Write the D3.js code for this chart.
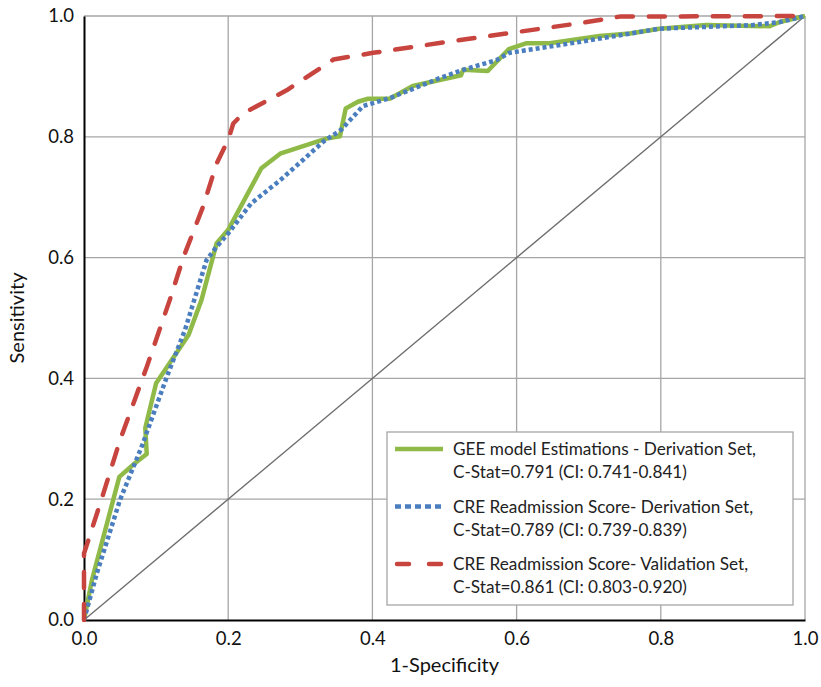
<!DOCTYPE html>
<html>
<head>
<meta charset="utf-8">
<script src="https://cdn.jsdelivr.net/npm/d3@7"></script>
<style>
  body { margin: 0; background: #fff; }
  svg { display: block; font-family: "Lato", "Open Sans", sans-serif; }
</style>
</head>
<body>
<svg id="chart" width="821" height="687"></svg>
<script>
// ROC curves: [1-specificity, sensitivity]
const geeDerivation = [
    [0, 0], [0.011, 0.066], [0.049, 0.237], [0.071, 0.26], [0.087, 0.275], [0.085, 0.318],
    [0.1, 0.392], [0.145, 0.472], [0.163, 0.53], [0.184, 0.624], [0.2, 0.646], [0.246, 0.748],
    [0.272, 0.772], [0.336, 0.797], [0.355, 0.801], [0.363, 0.847], [0.38, 0.858], [0.394, 0.863],
    [0.424, 0.863], [0.456, 0.884], [0.523, 0.902], [0.526, 0.911], [0.56, 0.909], [0.589, 0.945],
    [0.614, 0.955], [0.646, 0.955], [0.715, 0.967], [0.757, 0.971], [0.798, 0.979], [0.863, 0.985],
    [0.951, 0.983], [0.965, 0.99], [1, 1]
];
const creDerivation = [
    [0, 0], [0.018, 0.078], [0.05, 0.199], [0.08, 0.287], [0.115, 0.403], [0.14, 0.48],
    [0.17, 0.596], [0.184, 0.618], [0.2, 0.64], [0.232, 0.69], [0.272, 0.728], [0.304, 0.762],
    [0.332, 0.792], [0.357, 0.812], [0.387, 0.851], [0.396, 0.854], [0.424, 0.864], [0.493, 0.897],
    [0.526, 0.911], [0.572, 0.927], [0.59, 0.939], [0.687, 0.957], [0.798, 0.979], [0.928, 0.985],
    [0.965, 0.99], [1, 1]
];
const creValidation = [
    [0, 0], [0, 0.11], [0.006, 0.132], [0.027, 0.21], [0.05, 0.298], [0.087, 0.419],
    [0.119, 0.53], [0.138, 0.601], [0.165, 0.684], [0.184, 0.756], [0.2, 0.795], [0.207, 0.822],
    [0.221, 0.839], [0.281, 0.877], [0.346, 0.928], [0.401, 0.939], [0.503, 0.957], [0.604, 0.974],
    [0.687, 0.988], [0.743, 0.999], [1, 1]
];
const referenceLine = [[0, 0], [1, 1]];

const xTicks = [0, 0.2, 0.4, 0.6, 0.8, 1.0];
const yTicks = [0, 0.2, 0.4, 0.6, 0.8, 1.0];

const seriesNames = ["gee", "creDer", "creVal"];
const legendLabels = [
    ["GEE model Estimations - Derivation Set,", "C-Stat=0.791 (CI: 0.741-0.841)"],
    ["CRE Readmission Score- Derivation Set,", "C-Stat=0.789 (CI: 0.739-0.839)"],
    ["CRE Readmission Score- Validation Set,", "C-Stat=0.861 (CI: 0.803-0.920)"]
];

const style = {
    gee: { color: "#8fba48", width: 4.5, dash: null, cap: "butt" },
    creDer: { color: "#4a7ebf", width: 4.5, dash: "4,3", cap: "butt" },
    creVal: { color: "#c8443f", width: 4.5, dash: "16,16", cap: "round" }
};

const margin = { top: 16, right: 16, bottom: 67, left: 84 };
const svg = d3.select("svg#chart");
const width = +svg.attr("width") - margin.left - margin.right;
const height = +svg.attr("height") - margin.top - margin.bottom;

const x = d3.scaleLinear().domain([0, 1]).range([0, width]);
const y = d3.scaleLinear().domain([0, 1]).range([height, 0]);

const g = svg.append("g").attr("transform", `translate(${margin.left},${margin.top})`);

// grid
g.append("g").attr("class", "grid-x")
    .selectAll("line").data(xTicks.slice(1)).enter().append("line")
    .attr("x1", d => x(d)).attr("x2", d => x(d))
    .attr("y1", 0).attr("y2", height)
    .attr("stroke", "#a6a6a6").attr("stroke-width", 1.3);
g.append("g").attr("class", "grid-y")
    .selectAll("line").data(yTicks.slice(1)).enter().append("line")
    .attr("x1", 0).attr("x2", width)
    .attr("y1", d => y(d)).attr("y2", d => y(d))
    .attr("stroke", "#a6a6a6").attr("stroke-width", 1.3);

// axes
const xAxis = g.append("g").attr("transform", `translate(0,${height})`)
    .call(d3.axisBottom(x).tickValues(xTicks).tickFormat(d3.format(".1f")).tickSize(0).tickPadding(12));
const yAxis = g.append("g")
    .call(d3.axisLeft(y).tickValues(yTicks).tickFormat(d3.format(".1f")).tickSize(0).tickPadding(10));
[xAxis, yAxis].forEach(a => {
    a.select(".domain").attr("stroke", "#000").attr("stroke-width", 2);
    a.selectAll("text").attr("font-size", 18.5).attr("fill", "#111")
        .attr("font-family", "Lato, 'Open Sans', sans-serif");
});

// diagonal reference
const line = d3.line().x(d => x(d[0])).y(d => y(d[1]));
g.append("path").datum(referenceLine)
    .attr("d", line).attr("fill", "none")
    .attr("stroke", "#6e6e6e").attr("stroke-width", 1.4);

// ROC curves
const curves = { gee: geeDerivation, creDer: creDerivation, creVal: creValidation };
seriesNames.forEach(name => {
    const s = style[name];
    g.append("path").datum(curves[name])
        .attr("d", line).attr("fill", "none")
        .attr("stroke", s.color).attr("stroke-width", s.width)
        .attr("stroke-dasharray", s.dash)
        .attr("stroke-linecap", s.cap)
        .attr("stroke-linejoin", "round");
});

// axis titles
svg.append("text")
    .attr("x", margin.left + width / 2).attr("y", 672)
    .attr("text-anchor", "middle").attr("font-size", 20).attr("fill", "#111")
    .text("1-Specificity");
svg.append("text")
    .attr("transform", `translate(24,${margin.top + height / 2}) rotate(-90)`)
    .attr("text-anchor", "middle").attr("font-size", 20).attr("fill", "#111")
    .text("Sensitivity");

// legend
const legend = svg.append("g").attr("transform", "translate(387,432)");
legend.append("rect")
    .attr("width", 406).attr("height", 173)
    .attr("fill", "#fff").attr("stroke", "#a6a6a6").attr("stroke-width", 1.3);

const items = legend.selectAll("g.item").data(seriesNames).enter().append("g")
    .attr("class", "item")
    .attr("transform", (d, i) => `translate(0,${17 + i * 57.5})`);

items.append("line")
    .attr("x1", d => style[d].cap === "round" ? 10 : 8).attr("x2", d => style[d].cap === "round" ? 54 : 56)
    .attr("y1", 0).attr("y2", 0)
    .attr("stroke", d => style[d].color).attr("stroke-width", 4.5)
    .attr("stroke-dasharray", d => d === "creVal" ? "12,20" : (d === "creDer" ? "6,4" : null))
    .attr("stroke-linecap", d => style[d].cap);

items.append("text")
    .attr("x", 66).attr("y", 6)
    .attr("font-size", 17.2).attr("fill", "#222")
    .selectAll("tspan").data((d, i) => legendLabels[i]).enter().append("tspan")
    .attr("x", 66).attr("dy", (d, j) => j === 0 ? 0 : 23)
    .text(d => d);
</script>
</body>
</html>
